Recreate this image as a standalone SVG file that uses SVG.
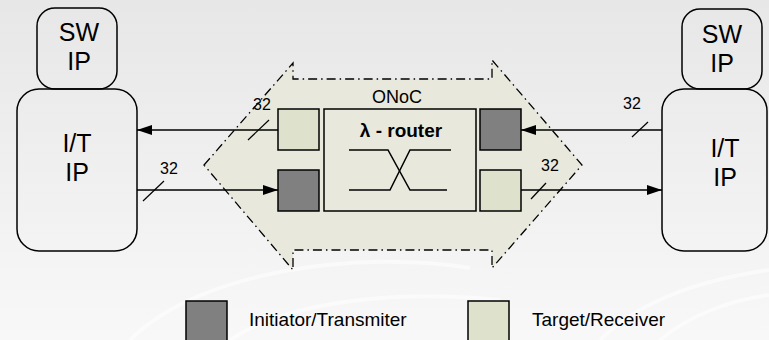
<svg xmlns="http://www.w3.org/2000/svg" width="769" height="340" viewBox="0 0 769 340">
<defs>
<linearGradient id="bg" x1="0" y1="0" x2="0" y2="1">
<stop offset="0" stop-color="#e7e7e7"/>
<stop offset="1" stop-color="#f8f8f8"/>
</linearGradient>
<marker id="ah" markerWidth="15" markerHeight="10" refX="15" refY="5" orient="auto" markerUnits="userSpaceOnUse">
<path d="M0,0 L15,5 L0,10 Z" fill="#000"/>
</marker>
<style>
.t{font-family:"Liberation Sans",Arial,sans-serif;fill:#000;text-anchor:middle}
.ip{fill:none;stroke:#000;stroke-width:1.5}
.dark{fill:#808080;stroke:#000;stroke-width:1.5}
.light{fill:#dee2cc;stroke:#000;stroke-width:1.5}
.ln{stroke:#000;stroke-width:1.5;fill:none}
.tick{stroke:#000;stroke-width:1.2}
.arc{fill:none;stroke:#fff;stroke-opacity:0.5;stroke-width:4}
</style>
</defs>
<rect width="769" height="340" fill="url(#bg)"/>
<g id="background-arcs">
<path class="arc" d="M130,340 C200,270 360,250 470,268"/>
<path class="arc" d="M230,340 C290,300 400,290 500,300"/>
<path class="arc" d="M600,340 C640,300 700,280 769,270"/>
<path class="arc" d="M660,340 C690,315 730,300 769,295"/>
</g>
<g id="onoc">
<polygon points="204,165 293,63 293,79 492,79 492,60 582,165 492,268 492,250 293,250 293,270" fill="#e8e9dc" stroke="#000" stroke-width="1.3" stroke-dasharray="9,4,1.5,4"/>
<text class="t" x="397" y="103" font-size="18">ONoC</text>
</g>
<g id="router">
<rect x="324" y="109" width="152" height="102" fill="#e8e9dc" stroke="#000" stroke-width="1.5"/>
<text class="t" x="401" y="137" font-size="19" font-weight="bold">λ - router</text>
<path class="ln" d="M349,150 H388 L410,190 H447"/>
<path class="ln" d="M349,190 H390 L410,150 H451"/>
</g>
<g id="left-target"><rect class="light" x="278" y="109" width="41" height="41"/></g>
<g id="left-initiator"><rect class="dark" x="278" y="170" width="41" height="41"/></g>
<g id="right-initiator"><rect class="dark" x="480" y="109" width="41" height="41"/></g>
<g id="right-target"><rect class="light" x="480" y="170" width="41" height="41"/></g>
<g id="left-sw-ip">
<rect class="ip" x="37" y="8" width="80" height="81" rx="18"/>
<text class="t" x="79" y="41" font-size="25">SW</text>
<text class="t" x="79" y="70" font-size="25">IP</text>
</g>
<g id="left-it-ip">
<rect class="ip" x="17" y="89" width="120" height="162" rx="22"/>
<text class="t" x="77" y="152" font-size="25">I/T</text>
<text class="t" x="77" y="181" font-size="25">IP</text>
</g>
<g id="right-sw-ip">
<rect class="ip" x="682" y="9" width="80" height="80" rx="18"/>
<text class="t" x="722" y="43" font-size="25">SW</text>
<text class="t" x="722" y="72" font-size="25">IP</text>
</g>
<g id="right-it-ip">
<rect class="ip" x="662" y="89" width="105" height="162" rx="22"/>
<text class="t" x="725" y="157" font-size="25">I/T</text>
<text class="t" x="725" y="186" font-size="25">IP</text>
</g>
<g id="connectors">
<line class="ln" x1="278" y1="130" x2="137" y2="130" marker-end="url(#ah)"/>
<line class="ln" x1="137" y1="190" x2="278" y2="190" marker-end="url(#ah)"/>
<line class="ln" x1="662" y1="130" x2="521" y2="130" marker-end="url(#ah)"/>
<line class="ln" x1="521" y1="190" x2="662" y2="190" marker-end="url(#ah)"/>
<line class="tick" x1="248" y1="140" x2="269" y2="120"/>
<line class="tick" x1="143" y1="201" x2="164" y2="181"/>
<line class="tick" x1="632" y1="137" x2="648" y2="122"/>
<line class="tick" x1="531" y1="199" x2="546" y2="183"/>
<text class="t" x="262" y="110" font-size="16">32</text>
<text class="t" x="169" y="174" font-size="16">32</text>
<text class="t" x="632" y="109" font-size="16">32</text>
<text class="t" x="550" y="171" font-size="16">32</text>
</g>
<g id="legend">
<rect class="dark" x="186" y="301" width="41" height="41"/>
<text class="t" x="249" y="326" font-size="19" style="text-anchor:start">Initiator/Transmiter</text>
<rect class="light" x="468" y="301" width="41" height="41"/>
<text class="t" x="532" y="326" font-size="19" style="text-anchor:start">Target/Receiver</text>
</g>
</svg>
